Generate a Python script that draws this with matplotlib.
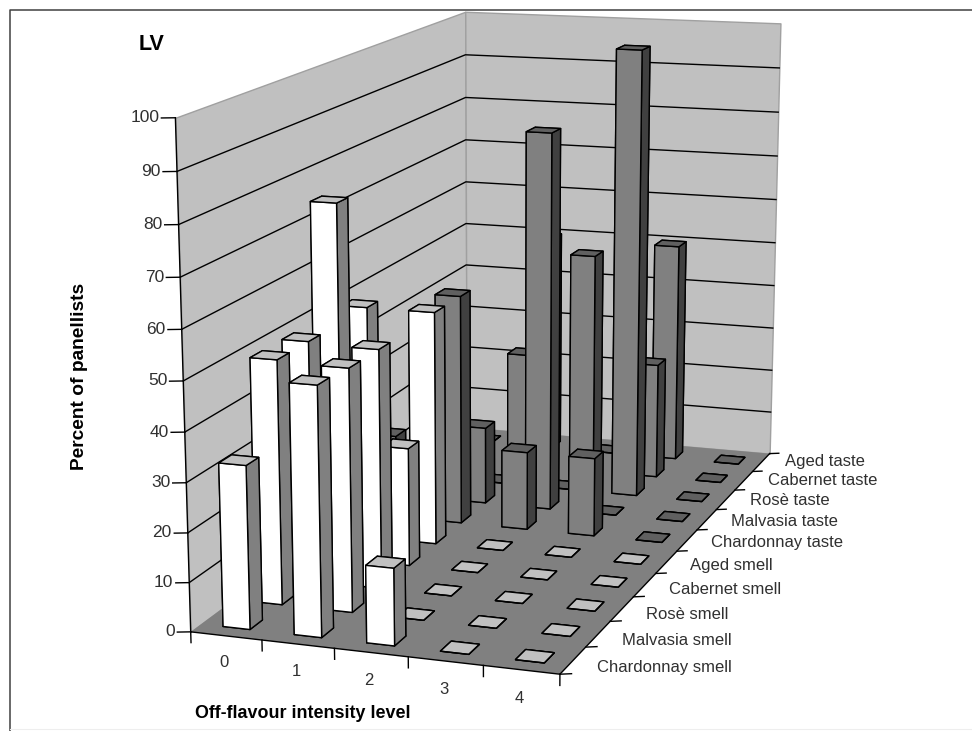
import numpy as np
import matplotlib
matplotlib.use("Agg")
import matplotlib.pyplot as plt
from matplotlib.lines import Line2D
from mpl_toolkits.mplot3d.art3d import Poly3DCollection

levels = ["0", "1", "2", "3", "4"]
categories = ["Chardonnay smell", "Malvasia smell", "Rosè smell", "Cabernet smell", "Aged smell",
              "Chardonnay taste", "Malvasia taste", "Rosè taste", "Cabernet taste", "Aged taste"]
# percent of panellists at intensity 0..4, one list per category
chardonnay_smell = [33, 50, 15.5, 0, 0]
malvasia_smell = [50, 49.5, 0, 0, 0]
rose_smell = [50, 49.5, 0, 0, 0]
cabernet_smell = [75, 25, 0, 0, 0]
aged_smell = [50, 50, 0, 0, 0]
chardonnay_taste = [18, 50, 17, 17, 0]
malvasia_taste = [0, 17, 83, 0, 0]
rose_taste = [0, 0, 0, 99, 0]
cabernet_taste = [0, 26, 50, 26, 0]
aged_taste = [0, 50, 0, 50, 0]
z_ticks = [0, 10, 20, 30, 40, 50, 60, 70, 80, 90, 100]

rows = [chardonnay_smell, malvasia_smell, rose_smell, cabernet_smell, aged_smell,
        chardonnay_taste, malvasia_taste, rose_taste, cabernet_taste, aged_taste]

W, H = 972, 731
plt.rcParams["font.family"] = ["Liberation Sans", "DejaVu Sans"]
fig = plt.figure(figsize=(W / 100, H / 100), dpi=100)
ax = fig.add_axes([0, 0, 1, 1], projection="3d", computed_zorder=False)
ax.set_axis_off()
ax.patch.set_alpha(0)

# camera fitted to the box corners as seen in the picture (Excel style perspective)
world = [(0, 0, 0), (5, 0, 0), (5, 10, 0), (0, 10, 0), (0, 0, 100), (0, 10, 100), (5, 10, 100)]
pixel = [(191, 628), (560, 678), (770, 449), (466, 432), (175, 118), (466, 10), (780, 25)]
A, b = [], []
for (X, Y, Z), (u, v) in zip(world, pixel):
    A.append([X, Y, Z, 1, 0, 0, 0, 0, -u * X, -u * Y, -u * Z]); b.append(u)
    A.append([0, 0, 0, 0, X, Y, Z, 1, -v * X, -v * Y, -v * Z]); b.append(v)
p = np.linalg.lstsq(np.array(A, float), np.array(b, float), rcond=None)[0]
P = np.append(p, 1).reshape(3, 4)


def to_px(x, y, z):
    q = P @ np.array([x, y, z, 1.0])
    return q[0] / q[2], q[1] / q[2]


ax.apply_aspect()
m = ax.transData.get_matrix()
sx, ox, sy, oy = m[0, 0], m[0, 2], m[1, 1], m[1, 2]
M = np.array([(P[0] - ox * P[2]) / sx,
              ((H * P[2] - P[1]) - oy * P[2]) / sy,
              [0, 0, 0, -1],
              P[2]])
ax.get_proj = lambda: M

WALL = "#c0c0c0"; FLOOR = "#808080"; LINE = "#000000"; TXT = "#303030"


def poly(verts, color, z, edge="none"):
    c = Poly3DCollection([verts], facecolors=color, edgecolors=edge, linewidths=1)
    c.set_zorder(z)
    ax.add_collection3d(c)


poly([(0, 0, 0), (0, 10, 0), (0, 10, 100), (0, 0, 100)], WALL, 1, "#a0a0a0")
poly([(0, 10, 0), (5, 10, 0), (5, 10, 100), (0, 10, 100)], WALL, 1, "#a0a0a0")
poly([(0, 0, 0), (5, 0, 0), (5, 10, 0), (0, 10, 0)], FLOOR, 2)

for z in z_ticks:
    if 0 < z < 100:
        ax.plot([0, 0, 5], [0, 10, 10], [z, z, z], color=LINE, lw=1, zorder=3)
    ax.plot([0, -0.16], [0, -0.06], [z, z], color=LINE, lw=1, zorder=3)
ax.plot([0, 0], [0, 0], [0, 100], color=LINE, lw=1, zorder=3)
ax.plot([0, 5, 5], [0, 0, 10], [0, 0, 0], color=LINE, lw=1, zorder=3)
for i in range(6):
    ax.plot([i, i], [0, 0], [0, -2.2], color=LINE, lw=1, zorder=3)
for j in range(11):
    ax.plot([5, 5.13], [j, j + 0.06], [0, 0], color=LINE, lw=1, zorder=3)

# back to front so nearer bars cover the far ones
bw = 0.38
zo = 10
for j in range(9, -1, -1):
    if j < 5:
        faces = ["#c0c0c0", "#c0c0c0", "#ffffff", "#ffffff", "#808080", "#808080"]
    else:
        faces = ["#606060", "#606060", "#808080", "#808080", "#404040", "#404040"]
    for i in range(5):
        c = ax.bar3d(i + 0.5 - bw / 2, j + 0.5 - bw / 2, 0, bw, bw, rows[j][i],
                     color=faces, shade=False, edgecolor="k", linewidth=1)
        c.set_zorder(zo)
        zo += 1

for z in z_ticks:
    u, v = to_px(0, 0, z)
    fig.text((u - 16) / W, 1 - v / H, str(z), ha="right", va="center", fontsize=12.5, color=TXT)
for i, s in enumerate(levels):
    u, v = to_px(i + 0.5, 0, 0)
    fig.text((u - 2) / W, 1 - (v + 27 + i * 0.5) / H, s, ha="center", va="center", fontsize=12, color=TXT)
for j, s in enumerate(categories):
    u, v = to_px(5, j + 0.5, 0)
    fig.text((u + 24) / W, 1 - (v + 7 - 0.9 * j) / H, s, ha="left", va="center", fontsize=12, color=TXT)

fig.text(152 / W, 1 - 45 / H, "LV", ha="center", va="center", fontsize=15.5, fontweight="bold")
fig.text(79 / W, 1 - 376 / H, "Percent of panellists", rotation=90, ha="center", va="center",
         fontsize=13.8, fontweight="bold")
fig.text(303 / W, 1 - 713 / H, "Off-flavour intensity level", ha="center", va="center",
         fontsize=12.9, fontweight="bold")

# frame of the pasted chart: only left and top really show
fig.add_artist(Line2D([9.5 / W, 9.5 / W, 1], [0, 1 - 9.5 / H, 1 - 9.5 / H], color="#404040", lw=1.1))
fig.add_artist(Line2D([9.5 / W, 1], [1 - 728.5 / H, 1 - 728.5 / H], color="#eeeeee", lw=0.8))

fig.savefig("out.png", dpi=100, facecolor="white")
